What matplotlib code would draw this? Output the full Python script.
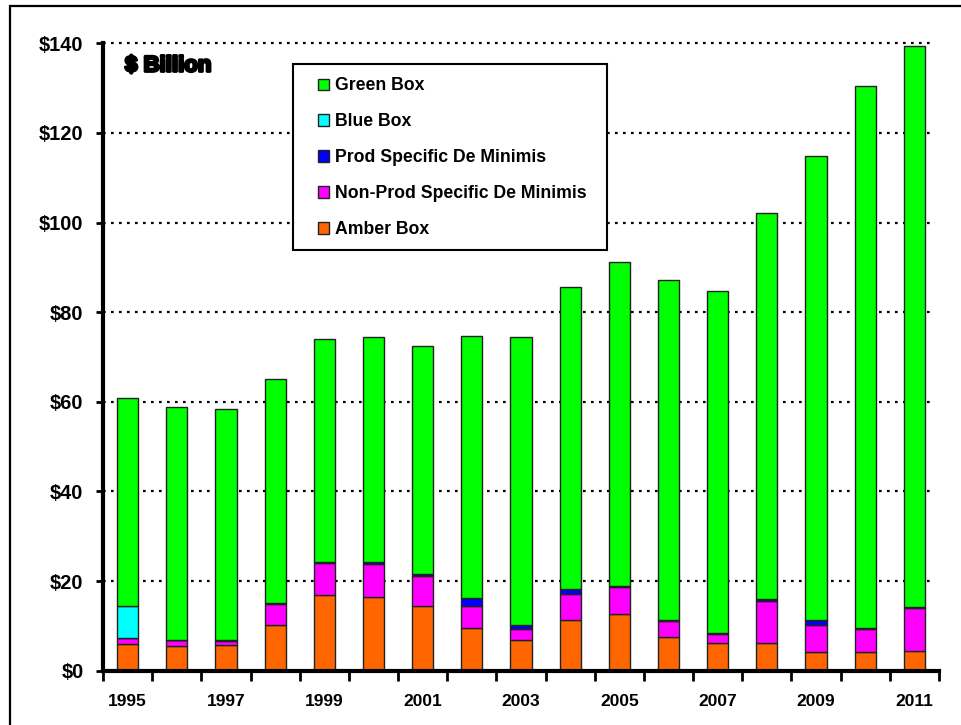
import numpy as np
import matplotlib
matplotlib.use("Agg")
import matplotlib.pyplot as plt
from matplotlib.patches import Rectangle
from matplotlib import font_manager
import matplotlib.patheffects as pe

# Domestic support by category, $ billion
years = list(range(1995, 2012))
amber = [5.9, 5.6, 5.8, 10.1, 16.9, 16.5, 14.4, 9.5, 6.8, 11.4, 12.7, 7.5, 6.2, 6.2, 4.1, 4.1, 4.5]
nonprod = [1.5, 1.2, 0.9, 4.7, 7.2, 7.4, 6.8, 4.9, 2.6, 5.8, 6.0, 3.6, 1.9, 9.4, 6.0, 5.2, 9.4]
prod = [0.0, 0.0, 0.2, 0.3, 0.2, 0.3, 0.3, 1.9, 0.9, 1.0, 0.2, 0.2, 0.3, 0.3, 1.3, 0.3, 0.3]
blue = [7.0, 0, 0, 0, 0, 0, 0, 0, 0, 0, 0, 0, 0, 0, 0, 0, 0]
totals = [60.8, 58.9, 58.3, 65.1, 74.1, 74.5, 72.4, 74.7, 74.4, 85.7, 91.2, 87.2, 84.8, 102.1, 114.9, 130.4, 139.4]

green = [t - a - n - p - b for t, a, n, p, b in zip(totals, amber, nonprod, prod, blue)]

series = [
    ("Amber Box", amber, "#FF6600"),
    ("Non-Prod Specific De Minimis", nonprod, "#FF00FF"),
    ("Prod Specific De Minimis", prod, "#0000FF"),
    ("Blue Box", blue, "#00FFFF"),
    ("Green Box", green, "#00FF00"),
]

# narrow font for the year labels if there is one
installed = {f.name for f in font_manager.fontManager.ttflist}
if "Liberation Sans Narrow" in installed:
    xfont, xsize = "Liberation Sans Narrow", 14.5
else:
    xfont, xsize = "Liberation Sans", 12.5

fig = plt.figure(figsize=(9.61, 7.25), dpi=100)
ax = fig.add_axes([103 / 961, 1 - 670.7 / 725, (939 - 103) / 961, (670.7 - 43.3) / 725])

x = np.arange(len(years))
bottom = np.zeros(len(years))
handles = {}
for name, vals, color in series:
    vals = np.array(vals, dtype=float)
    bars = ax.bar(x, vals, bottom=bottom, width=0.43, color=color,
                  edgecolor="#222222", linewidth=1.0, zorder=3, label=name)
    handles[name] = bars
    bottom += vals

ax.set_xlim(-0.5, len(years) - 0.5)
ax.set_ylim(0, 140)

# dotted gridlines
for v in range(20, 141, 20):
    ax.plot([-0.5, len(years) - 0.6], [v, v], color="black",
            linestyle=(0, (1.2, 2.4)), linewidth=1.6, zorder=1, clip_on=False)

for s in ["top", "right"]:
    ax.spines[s].set_visible(False)
ax.spines["left"].set_linewidth(3)
ax.spines["bottom"].set_linewidth(3)
ax.spines["bottom"].set_zorder(5)

ax.set_yticks(range(0, 141, 20))
ax.set_yticklabels([f"${v}" for v in range(0, 141, 20)],
                   fontsize=14.5, fontweight="bold", family="Liberation Sans")
ax.tick_params(axis="y", direction="out", length=5, width=2, pad=9)

# x ticks at category boundaries, labels at centres on alternate years
ax.set_xticks(np.arange(-0.5, len(years), 1.0))
ax.set_xticklabels([])
ax.tick_params(axis="x", which="major", direction="out", length=7, width=2)
ax.set_xticks(x, minor=True)
ax.set_xticklabels([str(y) if y % 2 == 1 else "" for y in years], minor=True,
                   fontsize=xsize, fontweight="bold", family=xfont)
ax.tick_params(axis="x", which="minor", length=0, pad=17)

# "$ Billion" label
fig.text(125 / 961, 1 - 66 / 725, "$ Billion", fontsize=16, fontweight="bold",
         family="Liberation Sans", va="center", ha="left",
         path_effects=[pe.withStroke(linewidth=2, foreground="black")])

# legend box
fig.patches.append(Rectangle((293 / 961, 1 - 250 / 725), (607 - 293) / 961, (250 - 64) / 725,
                             transform=fig.transFigure, facecolor="white",
                             edgecolor="black", linewidth=1.5, zorder=4))
order = ["Green Box", "Blue Box", "Prod Specific De Minimis",
         "Non-Prod Specific De Minimis", "Amber Box"]
leg = fig.legend([handles[n] for n in order], order, loc="upper left",
                 bbox_to_anchor=(318 / 961, 1 - 77.5 / 725), frameon=False,
                 borderpad=0, borderaxespad=0, handlelength=0.62, handleheight=0.62,
                 handletextpad=0.35, labelspacing=1.07,
                 prop={"family": "Liberation Sans", "weight": "bold", "size": 12.7})
leg.set_zorder(6)

# outer figure border
fig.patches.append(Rectangle((10 / 961, -0.05), 1.1, 1.05 - 5.5 / 725,
                             transform=fig.transFigure, facecolor="none",
                             edgecolor="black", linewidth=1.6))

fig.savefig("out.png", dpi=100)
